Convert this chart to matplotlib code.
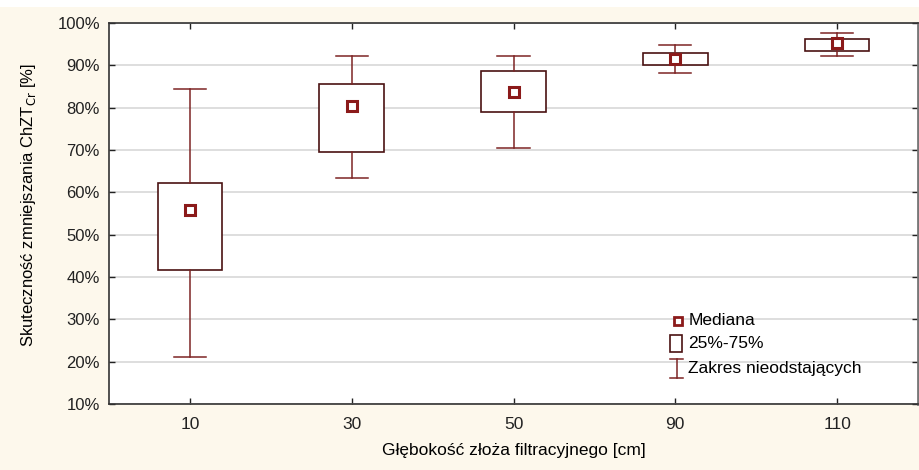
import matplotlib
matplotlib.use("Agg")
import matplotlib.pyplot as plt
from matplotlib.patches import Rectangle
from matplotlib.lines import Line2D
from matplotlib.ticker import FuncFormatter, MultipleLocator

# data (%)
depths = ['10', '30', '50', '90', '110']
medians = [55.9, 80.4, 83.7, 91.4, 95.3]
q1 = [41.7, 69.5, 79.0, 90.0, 93.4]
q3 = [62.3, 85.5, 88.6, 92.8, 96.1]
whis_low = [21.1, 63.4, 70.5, 88.2, 92.3]
whis_high = [84.4, 92.2, 92.3, 94.9, 97.7]

box_edge = '#4a1212'
whisker_col = '#7d2424'
med_col = '#8b1a1a'
bg = '#fdf8ec'

plt.rcParams['font.family'] = ['Liberation Sans', 'DejaVu Sans']

fig = plt.figure(figsize=(9.2, 4.7), dpi=100, facecolor=bg)
# white strip at the very top of the picture
fig.patches.append(Rectangle((0, 0.985), 1, 0.015, transform=fig.transFigure,
                             facecolor='white', edgecolor='none', zorder=0))
ax = fig.add_axes([109 / 920, 1 - 404.1 / 470, 809 / 920, 381.2 / 470])

stats = []
for i, name in enumerate(depths):
    stats.append({'label': name, 'med': medians[i], 'q1': q1[i], 'q3': q3[i],
                  'whislo': whis_low[i], 'whishi': whis_high[i], 'fliers': []})

pos = list(range(1, len(depths) + 1))
ax.bxp(stats, positions=pos, widths=0.4, capwidths=0.2, patch_artist=True,
       showfliers=False,
       boxprops=dict(facecolor='white', edgecolor=box_edge, linewidth=1.2),
       whiskerprops=dict(color=whisker_col, linewidth=1.1),
       capprops=dict(color=whisker_col, linewidth=1.1),
       medianprops=dict(visible=False))
ax.plot(pos, medians, linestyle='none', marker='s', markersize=6.5,
        markerfacecolor='white', markeredgecolor=med_col, markeredgewidth=2.2,
        zorder=5)

ax.set_xlim(0.5, 5.5)
ax.set_ylim(10, 100)
ax.yaxis.set_major_locator(MultipleLocator(10))
ax.yaxis.set_major_formatter(FuncFormatter(lambda v, p: f'{v:.0f}%'))
ax.set_xticks(pos)
ax.set_xticklabels(depths)
ax.grid(axis='y', color='#d4d4d4', linewidth=1.1)
ax.set_axisbelow(True)
ax.tick_params(direction='in', length=4, width=1, labelsize=12, colors='#222222',
               top=True, right=True)
ax.tick_params(axis='y', pad=6.5)
ax.tick_params(axis='x', pad=9, labelsize=12.5)
for s in ax.spines.values():
    s.set_color('#333333')
    s.set_linewidth(1.2)
ax.spines['right'].set_color('#777777')
ax.spines['right'].set_linewidth(2)

ax.set_xlabel('Głębokość złoża filtracyjnego [cm]', fontsize=12.5)
ax.set_ylabel('Skuteczność zmniejszania ChZT$_{\\mathrm{Cr}}$ [%]', fontsize=12)
ax.xaxis.set_label_coords(0.5, -0.123)
ax.yaxis.set_label_coords(-0.100, 0.522)
ax.xaxis.label.set_va('center')
ax.yaxis.label.set_va('center')

# legend drawn by hand
T = ax.transAxes
ax.add_line(Line2D([0.703], [0.218], transform=T, marker='s', markersize=6,
                   markerfacecolor='white', markeredgecolor=med_col,
                   markeredgewidth=2, linestyle='none'))
ax.add_patch(Rectangle((0.694, 0.137), 0.0148, 0.044, transform=T,
                       facecolor='white', edgecolor=box_edge, linewidth=1.2))
ax.add_line(Line2D([0.7015, 0.7015], [0.069, 0.118], transform=T,
                   color=whisker_col, linewidth=1.1))
ax.add_line(Line2D([0.693, 0.710], [0.069, 0.069], transform=T,
                   color=whisker_col, linewidth=1.1))
ax.add_line(Line2D([0.693, 0.710], [0.118, 0.118], transform=T,
                   color=whisker_col, linewidth=1.1))
for yy, txt in [(0.218, 'Mediana'), (0.159, '25%-75%'), (0.093, 'Zakres nieodstających')]:
    ax.text(0.716, yy, txt, transform=T, fontsize=12.5, va='center', ha='left')

fig.savefig('out.png', dpi=100, facecolor=bg)
